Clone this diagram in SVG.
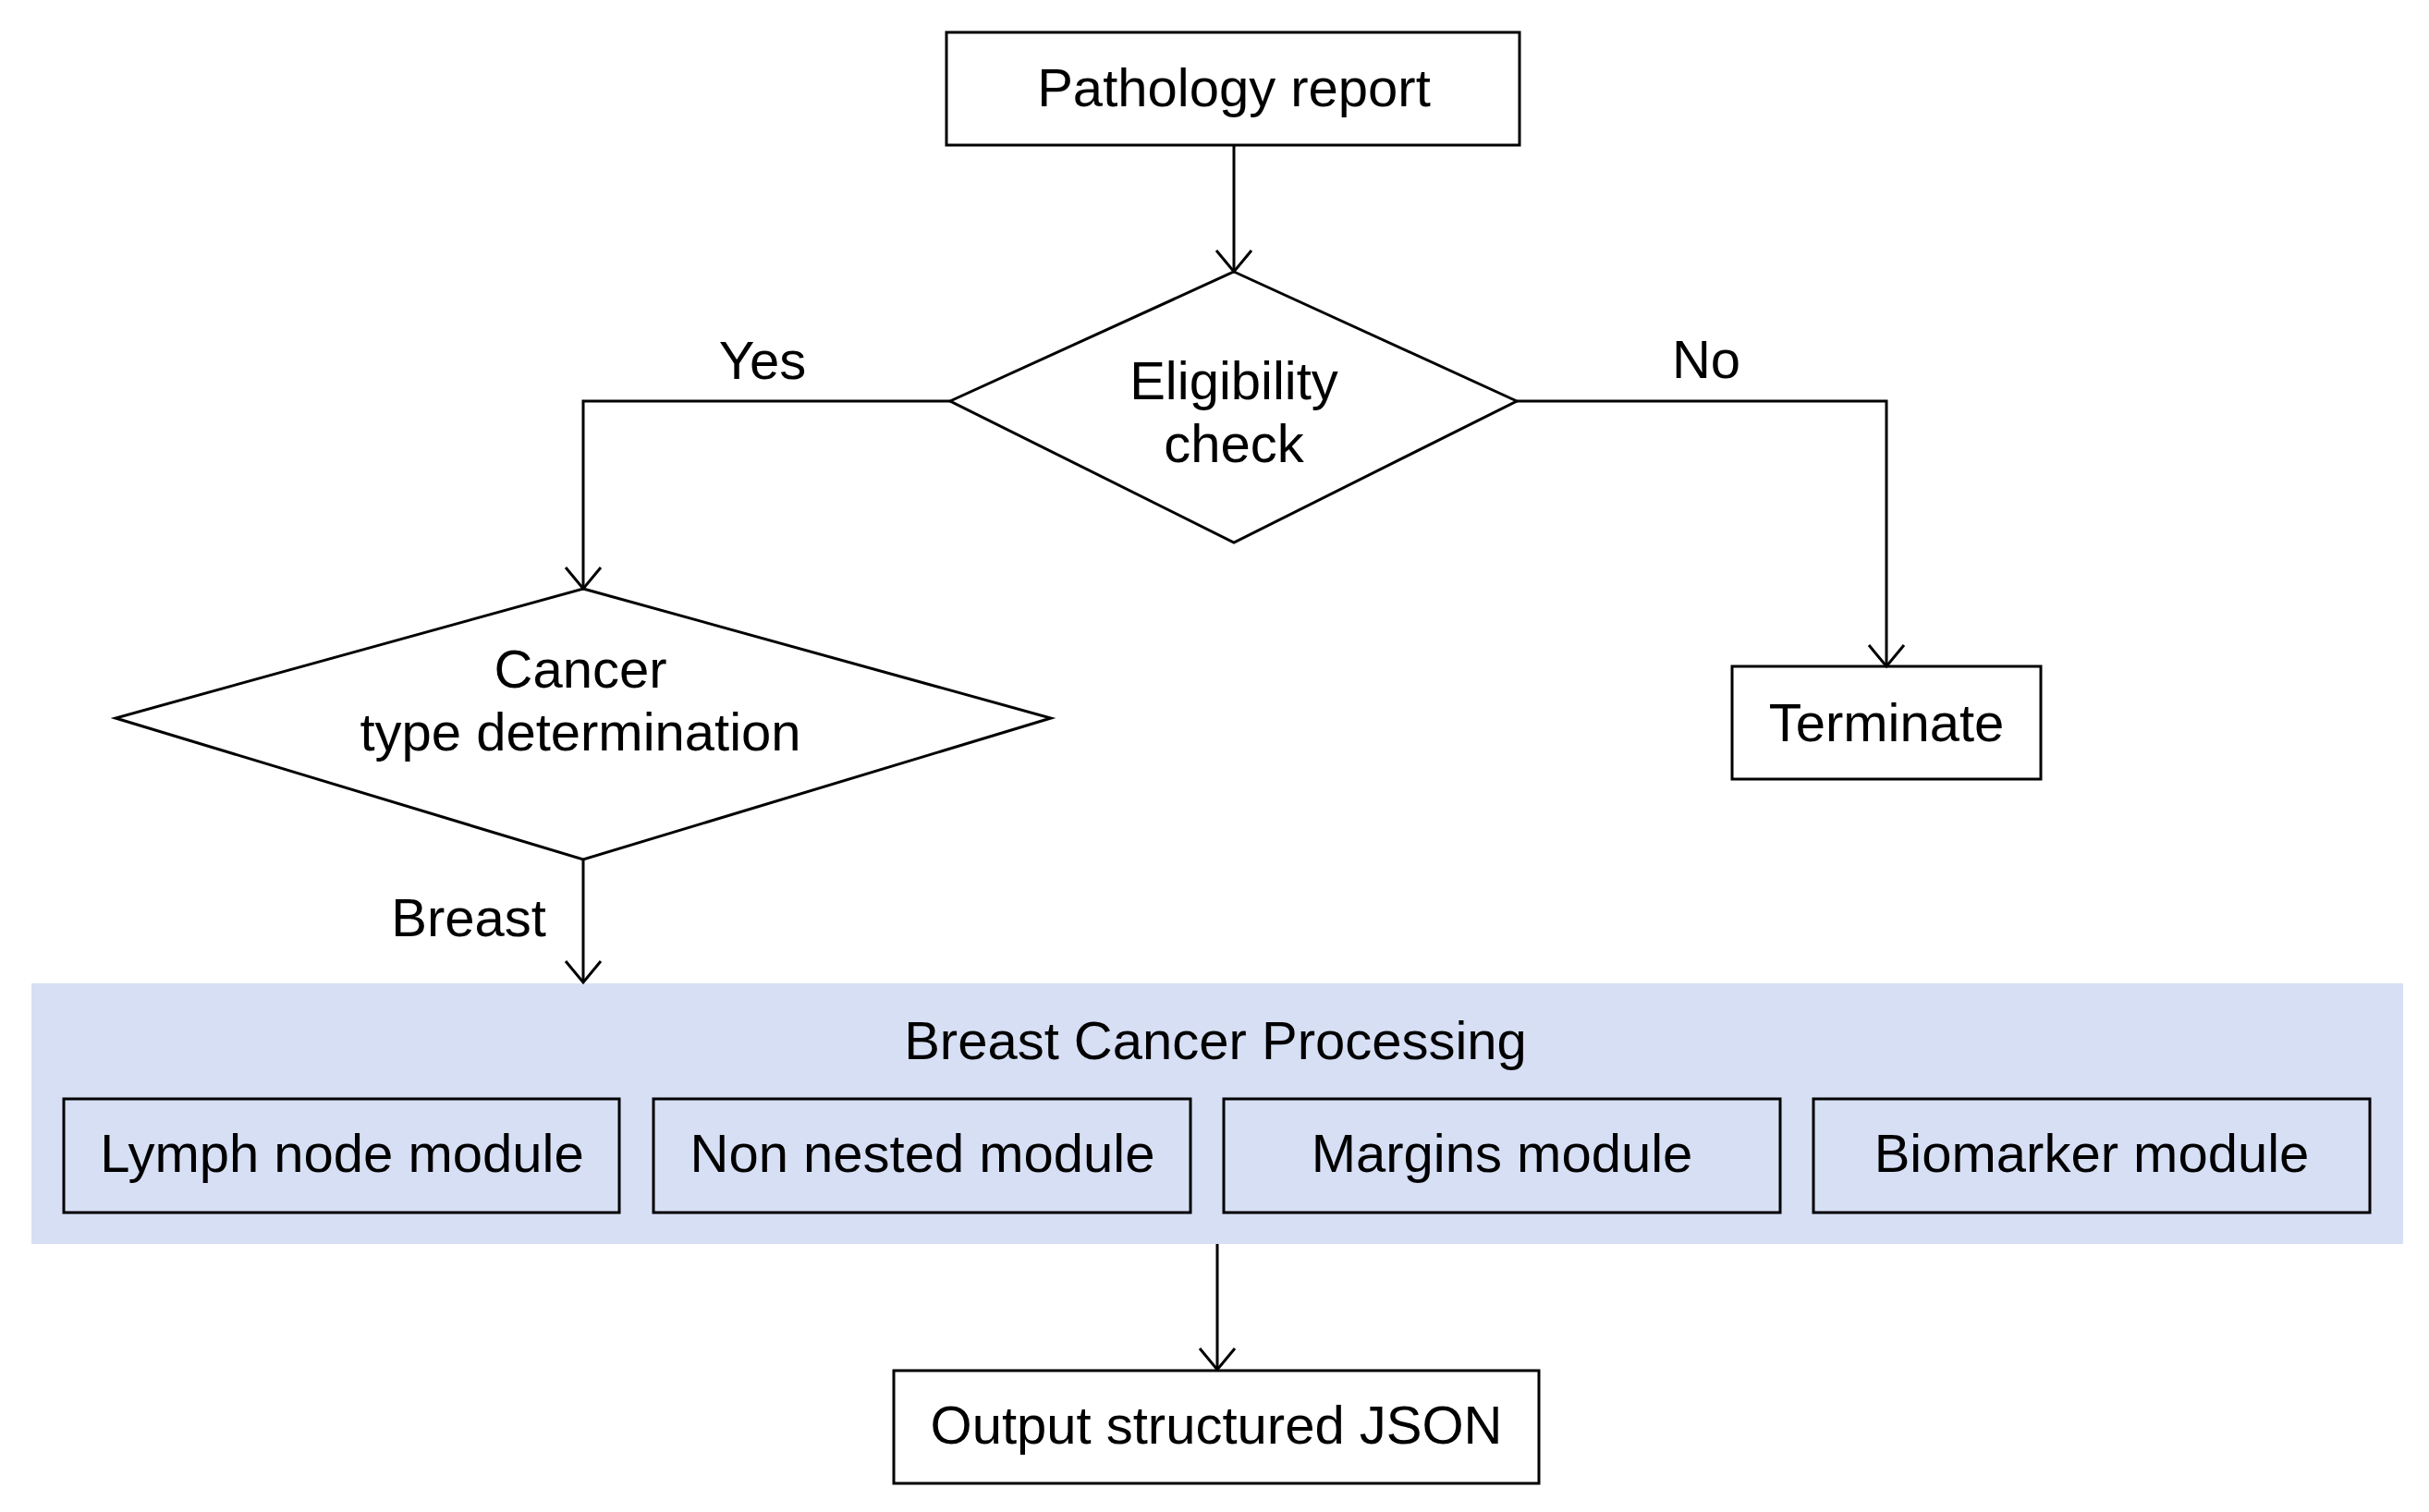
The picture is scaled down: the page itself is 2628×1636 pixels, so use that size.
<svg xmlns="http://www.w3.org/2000/svg" width="2628" height="1636" viewBox="0 0 2628 1636">
<style>
.box{fill:#fff;stroke:#000;stroke-width:3}
.mod{fill:none;stroke:#000;stroke-width:3}
.t{font-family:"Liberation Sans",Arial,sans-serif;font-size:58px;fill:#000;text-anchor:middle}
.conn{fill:none;stroke:#000;stroke-width:3}
</style>
<defs>
<marker id="arr" markerUnits="userSpaceOnUse" markerWidth="40" markerHeight="50" viewBox="-30 -25 40 50" refX="0" refY="0" orient="auto" overflow="visible">
<path d="M-23,-19 L0,0 L-23,19" fill="none" stroke="#000" stroke-width="3"/>
</marker>
</defs>
<rect width="2628" height="1636" fill="#fff"/>
<g id="panel">
<rect x="34" y="1064" width="2566" height="282" fill="#D7DFF5"/>
<text class="t" x="1315" y="1146">Breast Cancer Processing</text>
</g>
<g id="pathology">
<rect class="box" x="1024" y="35" width="620" height="122"/>
<text class="t" x="1335" y="115">Pathology report</text>
</g>
<g id="eligibility">
<polygon class="box" points="1335,294 1641,434 1335,587 1028,434"/>
<text class="t" x="1335" y="432">Eligibility</text>
<text class="t" x="1335" y="500">check</text>
</g>
<g id="cancer-type">
<polygon class="box" points="631,637 1137,777 631,930 125,777"/>
<text class="t" x="628" y="744">Cancer</text>
<text class="t" x="628" y="812">type determination</text>
</g>
<g id="terminate">
<rect class="box" x="1874" y="721" width="334" height="122"/>
<text class="t" x="2041" y="802">Terminate</text>
</g>
<g id="lymph">
<rect class="mod" x="69" y="1189" width="601" height="123"/>
<text class="t" x="370" y="1268">Lymph node module</text>
</g>
<g id="nonnested">
<rect class="mod" x="707" y="1189" width="581" height="123"/>
<text class="t" x="998" y="1268">Non nested module</text>
</g>
<g id="margins">
<rect class="mod" x="1324" y="1189" width="602" height="123"/>
<text class="t" x="1625" y="1268">Margins module</text>
</g>
<g id="biomarker">
<rect class="mod" x="1962" y="1189" width="602" height="123"/>
<text class="t" x="2263" y="1268">Biomarker module</text>
</g>
<g id="output">
<rect class="box" x="967" y="1483" width="698" height="122"/>
<text class="t" x="1316" y="1562">Output structured JSON</text>
</g>
<g id="connectors">
<path class="conn" d="M1335,157 L1335,294" marker-end="url(#arr)"/>
<path class="conn" d="M1028,434 L631,434 L631,637" marker-end="url(#arr)"/>
<path class="conn" d="M1641,434 L2041,434 L2041,721" marker-end="url(#arr)"/>
<path class="conn" d="M631,930 L631,1063" marker-end="url(#arr)"/>
<path class="conn" d="M1317,1346 L1317,1482" marker-end="url(#arr)"/>
<text class="t" x="825" y="410">Yes</text>
<text class="t" x="1846" y="409">No</text>
<text class="t" x="591" y="1013" style="text-anchor:end">Breast</text>
</g>
</svg>
